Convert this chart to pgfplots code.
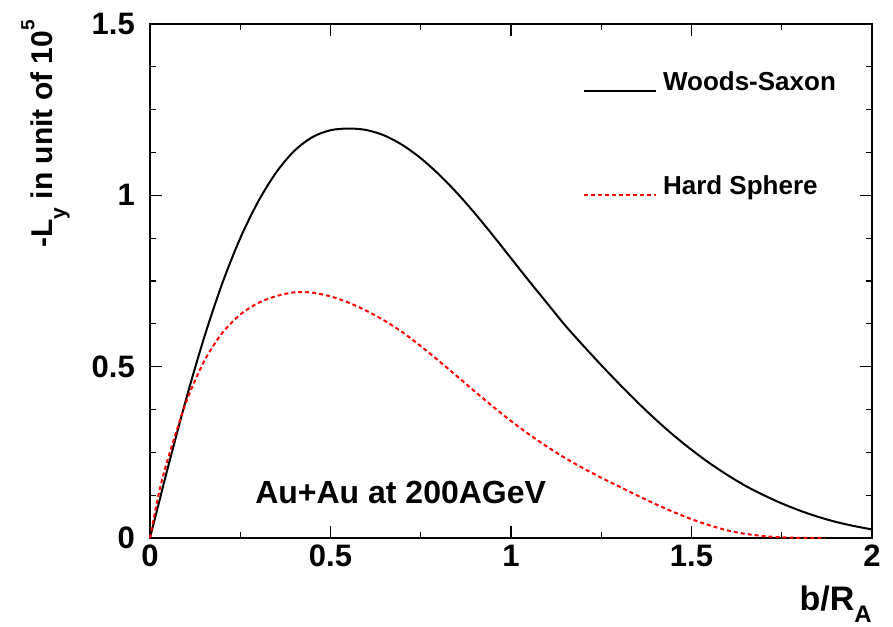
\documentclass[border=0pt]{standalone}
\usepackage{fontspec}
\setmainfont{Liberation Sans}
\usepackage{pgfplots}
\pgfplotsset{compat=1.18}
\newcommand{\fs}[1]{\fontsize{#1}{#1}\selectfont\bfseries}

\begin{document}
\begin{tikzpicture}
\begin{axis}[
    at={(0,0)}, anchor=south west,
    scale only axis, width=722pt, height=514pt,
    xmin=0, xmax=2, ymin=0, ymax=1.5,
    xtick={0,0.5,1,1.5,2}, ytick={0,0.5,1,1.5},
    minor xtick={0.25,0.75,1.25,1.75},
    minor ytick={0.125,0.25,0.375,0.625,0.75,0.875,1.125,1.25,1.375},
    tick align=inside,
    major tick length=12pt, minor tick length=6pt,
    tick style={black, line width=1.2pt},
    axis line style={line width=1.5pt},
    clip=false,
    /pgf/number format/assume math mode=true,
    tick label style={font=\fs{31}},
    xticklabel style={inner sep=0pt, yshift=-7pt},
    yticklabel style={inner sep=0pt, xshift=-15pt},
    xlabel={b/R\raisebox{-12pt}{\fs{24}A}},
    xlabel style={font=\fs{34}, at={(rel axis cs:1,-0.141)}, anchor=base east, inner sep=0pt},
    ylabel={-L\raisebox{-13pt}{\fs{21}y} in unit of 10\raisebox{18pt}{\fs{19}5}},
    ylabel style={font=\fs{30}, at={(rel axis cs:-0.1108,1.0078)}, anchor=south east, inner sep=0pt},
    legend style={at={(axis cs:1.199,1.368)}, anchor=north west, draw=none, fill=none,
        font=\fs{26}, row sep=80pt, inner sep=0pt,
        /tikz/every odd column/.append style={column sep=4pt}},
    legend cell align=left,
    legend image code/.code={\draw[#1] (0pt,-9pt) -- (72pt,-9pt);},
]
\addplot[black, line width=2pt, smooth] coordinates {
(0,0) (0.025,0.104) (0.05,0.2075) (0.1,0.405) (0.15,0.585) (0.2,0.7425)
(0.25,0.875) (0.3,0.9825) (0.35,1.0675) (0.4,1.13) (0.45,1.17)
(0.5,1.19) (0.55,1.195) (0.6,1.1905) (0.65,1.1743) (0.7,1.1463)
(0.75,1.1083) (0.8,1.0613) (0.85,1.0073) (0.9,0.9473) (0.95,0.883)
(1.0,0.8165) (1.05,0.75) (1.1,0.6853) (1.15,0.6205) (1.2,0.5615)
(1.25,0.5045) (1.3,0.4495) (1.35,0.3965) (1.4,0.3465) (1.45,0.3)
(1.5,0.2575) (1.55,0.2185) (1.6,0.1835) (1.65,0.152) (1.7,0.125)
(1.75,0.101) (1.8,0.08) (1.85,0.062) (1.9,0.047) (1.95,0.035) (2.0,0.025)
};
\addlegendentry{Woods-Saxon}
\addplot[red, line width=2pt, dash pattern=on 4pt off 3pt, smooth] coordinates {
(0,0) (0.025,0.133) (0.05,0.232) (0.1,0.396) (0.15,0.516) (0.2,0.598)
(0.25,0.652) (0.3,0.686) (0.35,0.706) (0.4,0.717) (0.45,0.716)
(0.5,0.705) (0.55,0.687) (0.6,0.663) (0.65,0.634) (0.7,0.6)
(0.75,0.56) (0.8,0.517) (0.85,0.4725) (0.9,0.4275) (0.95,0.3835)
(1.0,0.3415) (1.05,0.3025) (1.1,0.2665) (1.15,0.2335) (1.2,0.2035)
(1.25,0.176) (1.3,0.15) (1.35,0.124) (1.4,0.099) (1.45,0.076)
(1.5,0.055) (1.55,0.037) (1.6,0.022) (1.65,0.012) (1.7,0.0055)
(1.75,0.002) (1.8,0.0005) (1.87,0)
};
\addlegendentry{Hard Sphere}
\node[anchor=base west, font=\fs{32}, inner sep=0pt] at (axis cs:0.291,0.1007) {Au+Au at 200AGeV};
\end{axis}
% frame ticks, drawn inwards on all four sides (axis box is 722pt x 514pt at the origin)
\foreach \x in {180.5,361,541.5}{
  \draw[black, line width=1.2pt] (\x pt,0pt) -- (\x pt,12pt);
  \draw[black, line width=1.2pt] (\x pt,514pt) -- (\x pt,502pt);
}
\foreach \x in {90.25,270.75,451.25,631.75}{
  \draw[black, line width=1.2pt] (\x pt,0pt) -- (\x pt,6pt);
  \draw[black, line width=1.2pt] (\x pt,514pt) -- (\x pt,508pt);
}
\foreach \y in {171.333,342.667}{
  \draw[black, line width=1.2pt] (0pt,\y pt) -- (12pt,\y pt);
  \draw[black, line width=1.2pt] (722pt,\y pt) -- (710pt,\y pt);
}
\foreach \y in {42.833,85.667,128.5,214.167,257,299.833,385.5,428.333,471.167}{
  \draw[black, line width=1.2pt] (0pt,\y pt) -- (6pt,\y pt);
  \draw[black, line width=1.2pt] (722pt,\y pt) -- (716pt,\y pt);
}
\path (-150pt,-88pt) rectangle (743pt,538pt);
\end{tikzpicture}
\end{document}
